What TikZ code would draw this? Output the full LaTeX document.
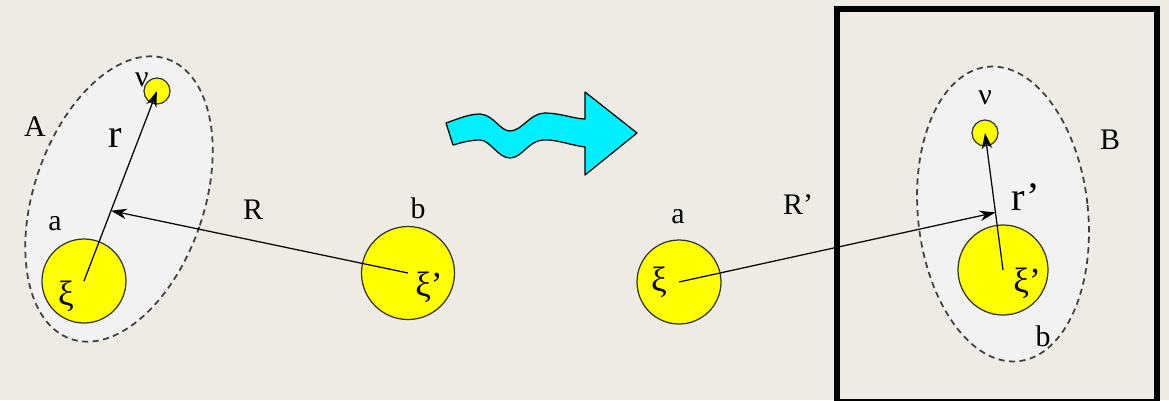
\documentclass[tikz,border=0pt]{standalone}
\usepackage{fontspec}
\setmainfont{Liberation Serif}
\usetikzlibrary{arrows.meta,calc}
\definecolor{bgc}{RGB}{238,235,228}
\definecolor{ellc}{RGB}{242,242,243}
\definecolor{yel}{RGB}{255,255,0}
\definecolor{cyn}{RGB}{0,240,255}
\begin{document}
\begin{tikzpicture}[x=0.02cm,y=-0.02cm,
  group/.style={draw=black!75,fill=ellc,dash pattern=on 3.5pt off 2.5pt,line width=1pt},
  bigball/.style={circle,draw=black!80,fill=yel,line width=0.7pt,minimum size=84*0.02cm,inner sep=0pt},
  smallball/.style={circle,draw=black!80,fill=yel,line width=0.7pt,minimum size=26*0.02cm,inner sep=0pt},
  lbl/.style={font=\fontsize{17}{20}\selectfont,inner sep=0pt},
  vec/.style={line width=0.7pt,-{Stealth[length=9pt,width=6pt]}},
  lin/.style={line width=0.7pt}]
\fill[bgc] (0,0) rectangle (1169,400);
\useasboundingbox (0,0) rectangle (1169,400);
% left group A
\draw[group] (119,199) ellipse[x radius=85,y radius=148,rotate=-19];
\node[bigball] (xiA) at (84,281) {};
\node[smallball] (nuA) at (157,91) {};
\node[bigball,minimum size=93*0.02cm] (xib) at (408,273) {};
\node[lbl] (labA) at (35,127) {A};
\node[lbl,font=\fontsize{23}{25}\selectfont] (labr) at (115,138) {r};
\node[lbl] (laba) at (55,224) {a};
\node[lbl] (labnu) at (142,80) {ν};
\node[lbl,font=\fontsize{20}{22}\selectfont] (labxi) at (66,296) {ξ};
\node[lbl] (labb) at (418,208) {b};
\node[lbl,font=\fontsize{20}{22}\selectfont] (labxib) at (429,287) {ξ'};
\node[lbl] (labR) at (253,210) {R};
\coordinate (mA) at ($(xiA.center)!0.37!(nuA.center)$);
\draw[vec] (xiA.center) -- (nuA.center);
\draw[vec] (xib.center) -- (mA);
% squiggly arrow
\draw[fill=cyn,line width=0.7pt,line join=round]
 (446,123) .. controls (460,118) and (470,114) .. (480,114)
 .. controls (494,115) and (500,131) .. (510,131)
 .. controls (522,131) and (530,113) .. (545,113)
 .. controls (560,113) and (575,119) .. (585,119)
 -- (585,92) -- (637,133) -- (585,175) -- (585,147)
 .. controls (570,145) and (555,139) .. (543,140)
 .. controls (528,141) and (522,158) .. (510,158)
 .. controls (498,158) and (490,140) .. (480,140)
 .. controls (470,140) and (460,143) .. (453,145) -- cycle;
% right side
\draw[line width=3.4pt] (837,9) rectangle (1157,402);
\draw[group] (1003,214) ellipse[x radius=85,y radius=148,rotate=6];
\node[bigball] (aR) at (679,282) {};
\node[smallball] (nuB) at (985,133) {};
\node[bigball,minimum size=90*0.02cm] (xiB) at (1003,270) {};
\node[lbl] (labaR) at (678,217) {a};
\node[lbl,font=\fontsize{20}{22}\selectfont] (labxiR) at (659,282) {ξ};
\node[lbl] (labRp) at (798,205) {R’};
\node[lbl] (labnuB) at (985,98) {ν};
\node[lbl,font=\fontsize{20}{22}\selectfont] (labxiB) at (1027,283) {ξ'};
\node[lbl] (labbB) at (1043,336) {b};
\node[lbl] (labB) at (1110,140) {B};
\node[lbl,font=\fontsize{23}{25}\selectfont] (labrp) at (1026,197) {r’};
\coordinate (mB) at ($(xiB.center)!0.42!(nuB.center)$);
\draw[vec] (xiB.center) -- (nuB.center);
\draw[vec] (aR.center) -- (mB);
\end{tikzpicture}
\end{document}
